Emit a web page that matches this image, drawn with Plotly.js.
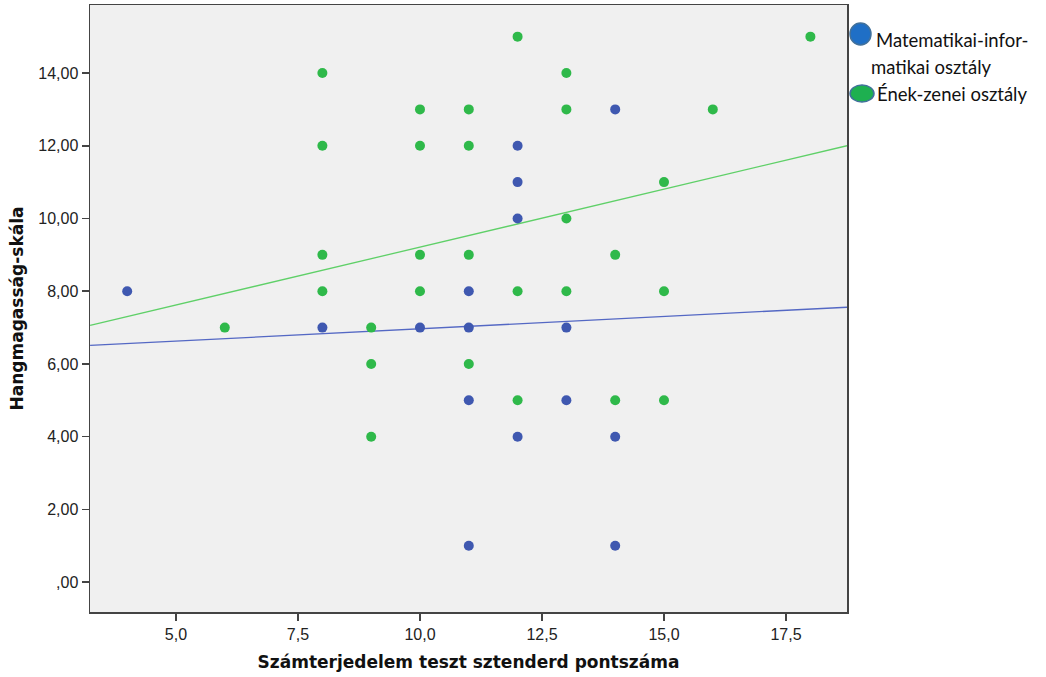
<!DOCTYPE html>
<html><head><meta charset="utf-8">
<script src="https://cdn.plot.ly/plotly-3.0.1.min.js"></script>
<style>body{margin:0;background:#fff}#c{width:1046px;height:677px}</style>
</head><body><div id="c"></div>
<script>
// Ének-zenei osztály (green)
const greenX = [6,8,8,8,8,9,9,9,10,10,10,10,11,11,11,11,12,12,12,13,13,13,13,14,14,15,15,15,16,18];
const greenY = [7,14,12,9,8,7,6,4,13,12,9,8,13,12,9,6,15,8,5,14,13,10,8,9,5,11,8,5,13,15];
// Matematikai-informatikai osztály (blue)
const blueX = [4,8,10,11,11,11,11,12,12,12,12,13,13,14,14,14];
const blueY = [8,7,7,8,7,5,1,12,11,10,4,7,5,13,4,1];
// Fit lines read at plot edges
const fitX = [3.24, 18.75];
const greenFitY = [7.06, 12.0];
const blueFitY = [6.51, 7.56];
// Ticks
const xTickVals = [5, 7.5, 10, 12.5, 15, 17.5];
const xTickText = ['5,0','7,5','10,0','12,5','15,0','17,5'];
const yTickVals = [0,2,4,6,8,10,12,14];
const yTickText = [',00','2,00','4,00','6,00','8,00','10,00','12,00','14,00'];
const legendLine1 = ['Matematikai-infor-', 'Ének-zenei osztály'];
const legendLine2 = ['matikai osztály', ''];

const traces = [
  {x: fitX, y: greenFitY, mode:'lines', line:{color:'#5fd068', width:1.3}, showlegend:false, hoverinfo:'skip'},
  {x: fitX, y: blueFitY, mode:'lines', line:{color:'#5468c4', width:1.3}, showlegend:false, hoverinfo:'skip'},
  {x: greenX, y: greenY, mode:'markers', marker:{color:'#2fb94a', size:10}, showlegend:false},
  {x: blueX, y: blueY, mode:'markers', marker:{color:'#3f58b0', size:10}, showlegend:false}
];

const W = 757, H = 607, L = 90, T = 5;
const px = v => (v - L) / W;
const py = v => 1 - (v - T) / H;
const legFont = {family:'Lato, Open Sans, sans-serif', size:18.5, color:'#111'};

const layout = {
  width:1046, height:677,
  margin:{l:90, r:199, t:5, b:65},
  paper_bgcolor:'#ffffff', plot_bgcolor:'#f0f0f0',
  showlegend:false,
  font:{family:'Liberation Sans, Arial, sans-serif', size:16, color:'#222'},
  xaxis:{range:[3.238, 18.75], tickvals:xTickVals, ticktext:xTickText,
    showgrid:false, zeroline:false, showline:true, mirror:true, linecolor:'#444', linewidth:1.5,
    ticks:'outside', ticklen:7, tickcolor:'#444', tickwidth:1.5,
    tickfont:{size:16, color:'#222'},
    title:{text:'Számterjedelem teszt sztenderd pontszáma', font:{family:'DejaVu Sans, Verdana, sans-serif', size:17, color:'#111', weight:'bold'}, standoff:14}},
  yaxis:{range:[-0.82, 15.87], tickvals:yTickVals, ticktext:yTickText,
    showgrid:false, zeroline:false, showline:true, mirror:true, linecolor:'#444', linewidth:1.5,
    ticks:'outside', ticklen:7, tickcolor:'#444', tickwidth:1.5,
    tickfont:{size:16, color:'#222'},
    title:{text:'Hangmagasság-skála', font:{family:'DejaVu Sans, Verdana, sans-serif', size:17, color:'#111', weight:'bold'}, standoff:10}},
  shapes:[
    {type:'circle', xref:'paper', yref:'paper', x0:px(850), x1:px(871), y0:py(45), y1:py(23), fillcolor:'#1f6fc6', line:{color:'#41719c', width:1.5}},
    {type:'circle', xref:'paper', yref:'paper', x0:px(850), x1:px(874), y0:py(102), y1:py(85), fillcolor:'#1eb050', line:{color:'#41719c', width:1.5}}
  ],
  annotations:[
    {xref:'paper', yref:'paper', x:px(874), y:py(40), xanchor:'left', yanchor:'middle', align:'left', showarrow:false,
     text:legendLine1[0], font:legFont},
    {xref:'paper', yref:'paper', x:px(869), y:py(67), xanchor:'left', yanchor:'middle', align:'left', showarrow:false,
     text:legendLine2[0], font:legFont},
    {xref:'paper', yref:'paper', x:px(875), y:py(94), xanchor:'left', yanchor:'middle', align:'left', showarrow:false,
     text:legendLine1[1], font:legFont}
  ]
};
Plotly.newPlot('c', traces, layout, {displayModeBar:false, staticPlot:true});
</script></body></html>
